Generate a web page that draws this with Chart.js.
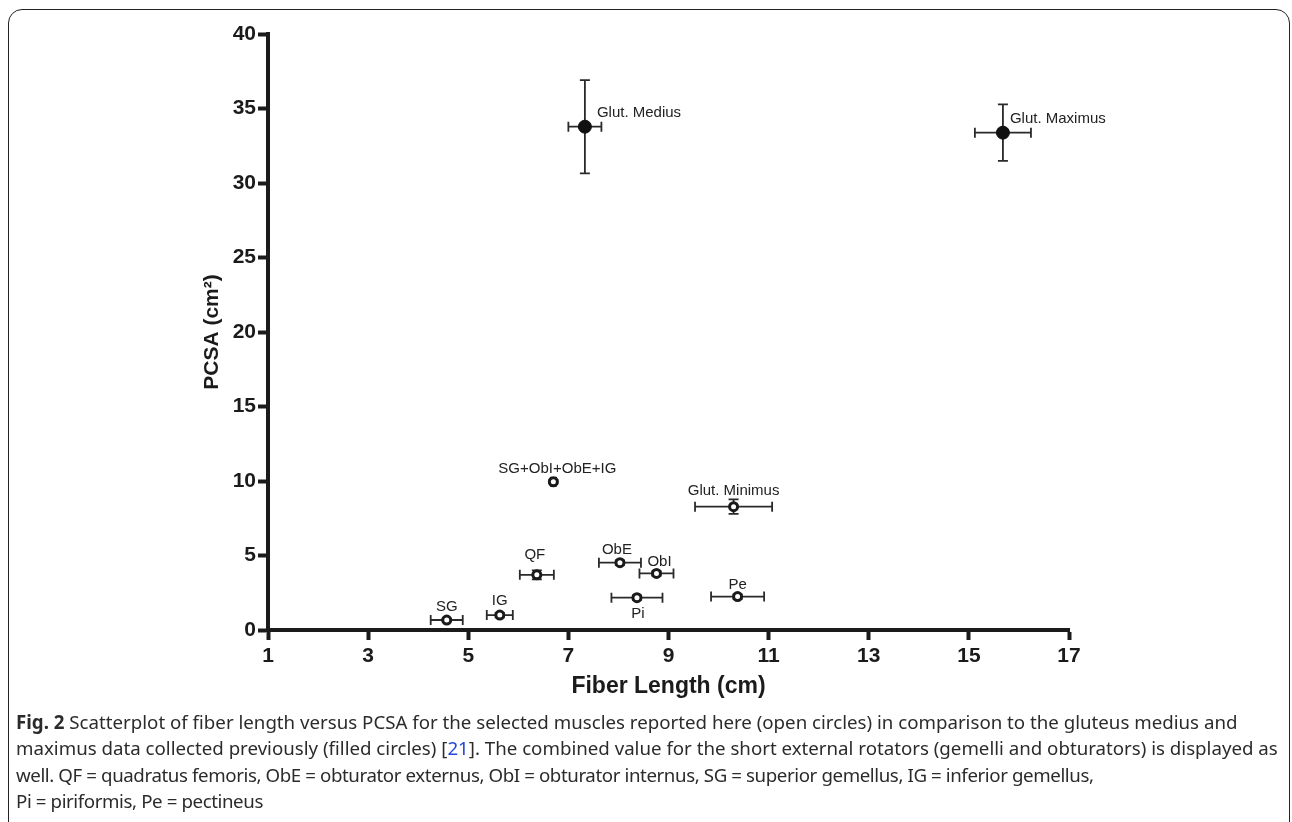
<!DOCTYPE html>
<html lang="en">

<head>
    <meta charset="UTF-8">
    <title>Fiber length vs PCSA</title>
    <script src="https://cdn.jsdelivr.net/npm/chart.js"></script>
    <style>
        body {
            margin: 0;
            background: #fff;
            width: 1292px;
            height: 822px;
            overflow: hidden;
            position: relative;
        }

        .moldura {
            position: absolute;
            left: 8px;
            top: 9px;
            width: 1282px;
            height: 900px;
            border: 1.5px solid #222;
            border-radius: 14px;
            box-sizing: border-box;
        }

        #grafico {
            position: absolute;
            left: 0;
            top: 0;
        }

        .legenda {
            position: absolute;
            left: 16px;
            top: 709px;
            font-family: "Noto Sans", sans-serif;
            font-size: 18.7px;
            line-height: 26.3px;
            color: #2b2b2b;
            white-space: nowrap;
        }

        .legenda a {
            color: #2349d6;
            text-decoration: none;
        }

        .apertada {
            letter-spacing: -0.4px;
        }
    </style>
</head>

<body>
    <div class="moldura"></div>
    <canvas id="grafico" width="1292" height="710"></canvas>

    <div class="legenda">
        <b>Fig. 2</b> Scatterplot of fiber length versus PCSA for the selected muscles reported here (open circles) in comparison to the gluteus medius and<br>
        maximus data collected previously (filled circles) [<a>21</a>]. The combined value for the short external rotators (gemelli and obturators) is displayed as<br>
        <span class="apertada">well. QF = quadratus femoris, ObE = obturator externus, ObI = obturator internus, SG = superior gemellus, IG = inferior gemellus,</span><br>
        <span class="apertada">Pi = piriformis, Pe = pectineus</span>
    </div>

<script>
    // muscles reported here (open circles)
    var muscles = ['SG', 'IG', 'QF', 'SG+ObI+ObE+IG', 'ObE', 'ObI', 'Pi', 'Pe', 'Glut. Minimus'];
    var fiberLength = [4.57, 5.63, 6.37, 6.70, 8.03, 8.76, 8.37, 10.38, 10.30];
    var pcsa = [0.67, 1.00, 3.70, 9.95, 4.52, 3.80, 2.17, 2.24, 8.28];
    var fiberSD = [0.32, 0.26, 0.34, 0.05, 0.42, 0.34, 0.51, 0.53, 0.77];
    var pcsaSD = [0.10, 0.15, 0.30, 0.10, 0.15, 0.15, 0.15, 0.15, 0.49];

    // gluteus data collected previously (filled circles)
    var glutMuscles = ['Glut. Medius', 'Glut. Maximus'];
    var glutFiberLength = [7.33, 15.68];
    var glutPcsa = [33.78, 33.38];
    var glutFiberSD = [0.33, 0.56];
    var glutPcsaSD = [3.13, 1.90];

    var xTicks = [1, 3, 5, 7, 9, 11, 13, 15, 17];
    var yTicks = [0, 5, 10, 15, 20, 25, 30, 35, 40];

    // label placement next to each point: dx, dy (px), align
    var labelPos = {
        'SG': [0, -9, 'center'],
        'IG': [0, -10, 'center'],
        'QF': [-2, -16, 'center'],
        'SG+ObI+ObE+IG': [4, -9, 'center'],
        'ObE': [-3, -9, 'center'],
        'ObI': [3, -7, 'center'],
        'Pi': [1, 20, 'center'],
        'Pe': [0, -8, 'center'],
        'Glut. Minimus': [0, -12, 'center'],
        'Glut. Medius': [12, -10, 'left'],
        'Glut. Maximus': [7, -10, 'left']
    };

    function montarPontos(nomes, xs, ys, xErr, yErr) {
        return nomes.map(function (nome, i) {
            return { x: xs[i], y: ys[i], xErr: xErr[i], yErr: yErr[i], nome: nome };
        });
    }

    var barrasErro = {
        id: 'barrasErro',
        beforeDatasetsDraw: function (chart) {
            var ctx = chart.ctx;
            var sx = chart.scales.x;
            var sy = chart.scales.y;
            var cap = 5;
            ctx.save();
            ctx.strokeStyle = '#2a2a2a';
            ctx.lineWidth = 1.8;
            chart.data.datasets.forEach(function (ds) {
                ds.data.forEach(function (p) {
                    var px = sx.getPixelForValue(p.x);
                    var py = sy.getPixelForValue(p.y);
                    var x0 = sx.getPixelForValue(p.x - p.xErr);
                    var x1 = sx.getPixelForValue(p.x + p.xErr);
                    var y0 = sy.getPixelForValue(p.y - p.yErr);
                    var y1 = sy.getPixelForValue(p.y + p.yErr);
                    ctx.beginPath();
                    ctx.moveTo(x0, py); ctx.lineTo(x1, py);
                    ctx.moveTo(x0, py - cap); ctx.lineTo(x0, py + cap);
                    ctx.moveTo(x1, py - cap); ctx.lineTo(x1, py + cap);
                    ctx.moveTo(px, y0); ctx.lineTo(px, y1);
                    ctx.moveTo(px - cap, y0); ctx.lineTo(px + cap, y0);
                    ctx.moveTo(px - cap, y1); ctx.lineTo(px + cap, y1);
                    ctx.stroke();
                });
            });
            ctx.restore();
        }
    };

    var rotulos = {
        id: 'rotulos',
        afterDatasetsDraw: function (chart) {
            var ctx = chart.ctx;
            ctx.save();
            ctx.font = '15px "Liberation Sans", Arial, sans-serif';
            ctx.fillStyle = '#222';
            ctx.textBaseline = 'alphabetic';
            chart.data.datasets.forEach(function (ds, d) {
                var meta = chart.getDatasetMeta(d);
                ds.data.forEach(function (p, i) {
                    var pos = labelPos[p.nome];
                    var el = meta.data[i];
                    ctx.textAlign = pos[2];
                    ctx.fillText(p.nome, el.x + pos[0], el.y + pos[1]);
                });
            });
            ctx.restore();
        }
    };

    var corEixo = '#1b1b1b';
    var fonteTick = { family: '"Liberation Sans", Arial, sans-serif', size: 21, weight: 'bold' };

    var config = {
        type: 'scatter',
        data: {
            datasets: [{
                label: 'previous',
                data: montarPontos(glutMuscles, glutFiberLength, glutPcsa, glutFiberSD, glutPcsaSD),
                pointRadius: 6.5,
                pointBackgroundColor: '#111',
                pointBorderColor: '#111',
                pointBorderWidth: 1
            }, {
                label: 'reported',
                data: montarPontos(muscles, fiberLength, pcsa, fiberSD, pcsaSD),
                pointRadius: 4,
                pointBackgroundColor: '#fff',
                pointBorderColor: '#1a1a1a',
                pointBorderWidth: 3
            }]
        },
        options: {
            responsive: false,
            animation: false,
            devicePixelRatio: 1,
            layout: { padding: { left: 0, top: 34, right: 223, bottom: 0 } },
            plugins: { legend: { display: false }, tooltip: { enabled: false } },
            scales: {
                x: {
                    type: 'linear',
                    min: 1,
                    max: 17,
                    afterFit: function (s) { s.height = 80; },
                    afterBuildTicks: function (s) { s.ticks = xTicks.map(function (v) { return { value: v }; }); },
                    ticks: { font: fonteTick, color: corEixo, padding: 4, maxRotation: 0 },
                    grid: { display: true, drawOnChartArea: false, drawTicks: true, tickLength: 10, tickWidth: 4, tickColor: corEixo },
                    border: { display: true, width: 4, color: corEixo },
                    title: {
                        display: true,
                        text: 'Fiber Length (cm)',
                        color: corEixo,
                        font: { family: '"Liberation Sans", Arial, sans-serif', size: 23, weight: 'bold' },
                        padding: { top: 0, bottom: 10 }
                    }
                },
                y: {
                    type: 'linear',
                    min: 0,
                    max: 40,
                    afterFit: function (s) { s.width = 268; },
                    afterBuildTicks: function (s) { s.ticks = yTicks.map(function (v) { return { value: v }; }); },
                    ticks: { font: fonteTick, color: corEixo, padding: 2 },
                    grid: { display: true, drawOnChartArea: false, drawTicks: true, tickLength: 10, tickWidth: 4, tickColor: corEixo },
                    border: { display: true, width: 4, color: corEixo },
                    title: {
                        display: true,
                        text: 'PCSA (cm²)',
                        color: corEixo,
                        font: { family: '"Liberation Sans", Arial, sans-serif', size: 21, weight: 'bold' },
                        padding: { top: 200, bottom: 0 }
                    }
                }
            }
        },
        plugins: [barrasErro, rotulos]
    };

    var grafico = new Chart(document.getElementById('grafico'), config);
</script>
</body>

</html>
